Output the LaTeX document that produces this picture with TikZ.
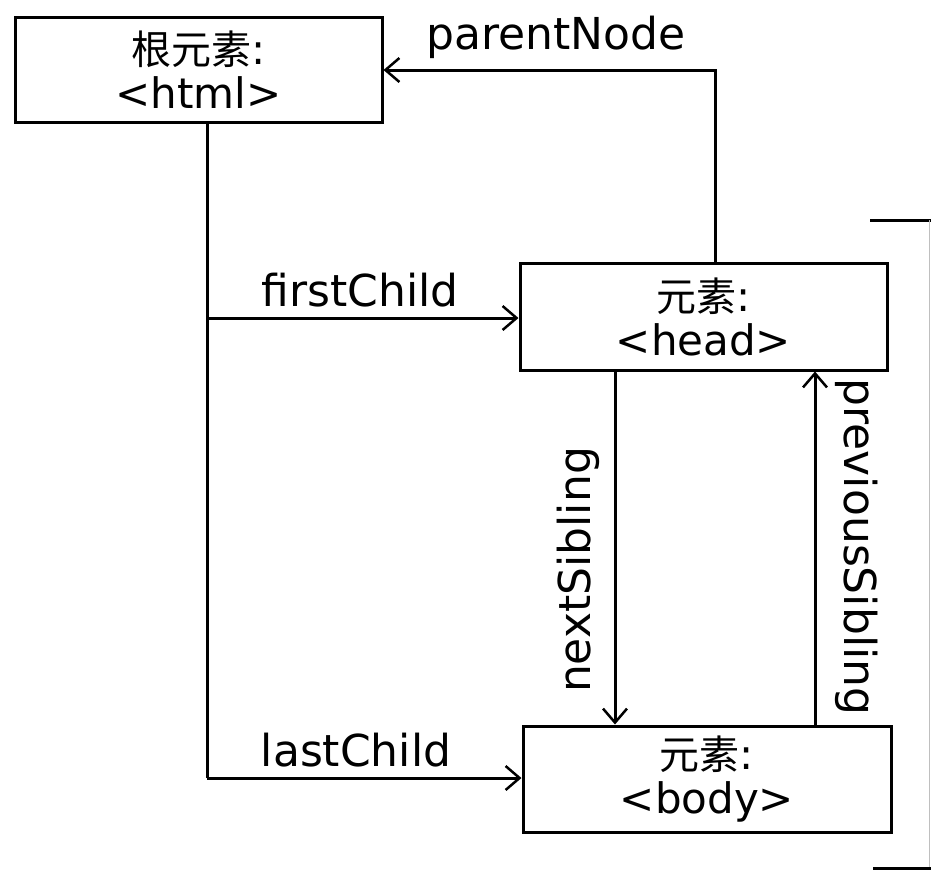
\documentclass[tikz,border=0pt]{standalone}
\usepackage{fontspec}
\setmainfont{DejaVu Sans}
\newfontfamily\cjk{Noto Sans CJK SC}
\usetikzlibrary{arrows.meta}
\begin{document}
\begin{tikzpicture}[x=1pt,y=-1pt,
  box/.style={draw,line width=3pt,rectangle,inner sep=0pt,align=center,
    font=\fontsize{42}{44}\selectfont},
  conn/.style={line width=3pt},
  arr/.style={conn,-{Straight Barb[length=14pt,width=24pt,line width=2.5pt]}},
  lbl/.style={inner sep=0pt,font=\fontsize{44}{46}\selectfont}]
\useasboundingbox (0,0) rectangle (931,871);
\node[box,minimum width=367pt,minimum height=105pt] (root) at (198.5,69.5)
  {{\cjk\fontsize{40}{44}\selectfont 根元素}:\\<html>};
\node[box,minimum width=367pt,minimum height=107pt] (head) at (703.5,316.5)
  {{\cjk\fontsize{40}{44}\selectfont 元素}:\\<head>};
\node[box,minimum width=368pt,minimum height=106pt] (body) at (707,779)
  {{\cjk\fontsize{40}{44}\selectfont 元素}:\\<body>};
\coordinate (pn) at (715,70);
\coordinate (trunk) at (207,778);
\coordinate (fc) at (207,318);
\coordinate (ns) at (615,0);
\coordinate (ps) at (815,0);
\draw[arr] (head.north -| pn) -- (pn) -- (root.east |- pn);
\draw[conn] (root.south -| trunk) -- (trunk);
\draw[arr] (fc) -- (head.west |- fc);
\draw[arr] (trunk) -- (body.west |- trunk);
\draw[arr] (head.south -| ns) -- (body.north -| ns);
\draw[arr] (body.north -| ps) -- (head.south -| ps);
\node[lbl] (lpn) at (556,37) {parentNode};
\node[lbl] (lfc) at (360,290) {firstChild};
\node[lbl] (llc) at (356,750) {lastChild};
\node[lbl,rotate=90] (lns) at (578,570) {nextSibling};
\node[lbl,rotate=-90] (lps) at (857,547) {previousSibling};
\draw[line width=3pt] (870,220) -- (931,220);
\draw[line width=1pt,black!25] (929,220) -- (929,867);
\draw[line width=3pt] (873,868) -- (931,868);
\end{tikzpicture}
\end{document}
